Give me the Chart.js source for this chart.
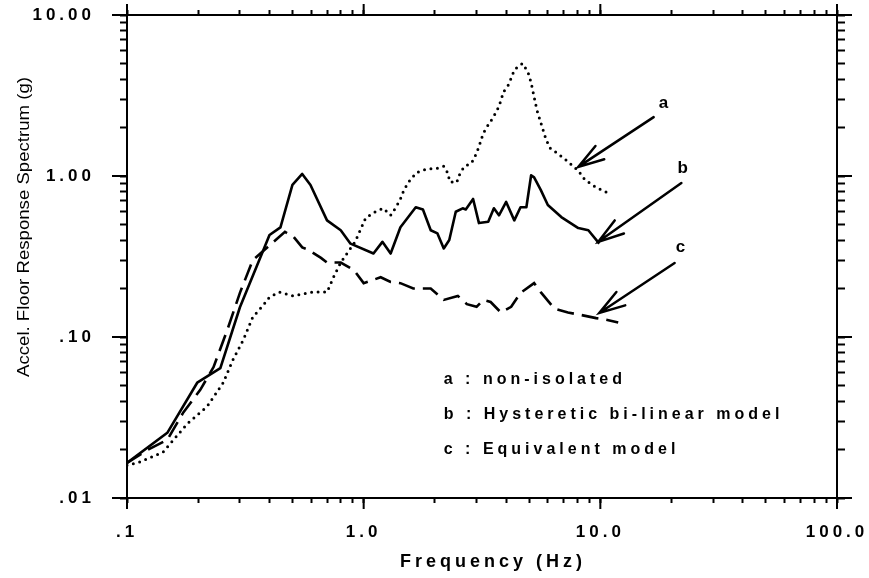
<!DOCTYPE html>
<html>
<head>
<meta charset="utf-8">
<script src="https://cdn.jsdelivr.net/npm/chart.js@4.4.1/dist/chart.umd.min.js"></script>
<style>
  html, body { margin: 0; padding: 0; background: #fff; }
  #wrap { width: 869px; height: 578px; }
</style>
</head>
<body>
<div id="wrap"><canvas id="chart" width="869" height="578"></canvas></div>
<script>
// a : non-isolated
const freqA = [0.1, 0.113, 0.142, 0.18, 0.218, 0.255, 0.28, 0.31, 0.34, 0.377, 0.40, 0.44, 0.505, 0.61, 0.70, 0.75, 0.80, 0.85, 0.92, 1.02, 1.12, 1.21, 1.3, 1.37, 1.43, 1.48, 1.55, 1.67, 1.83, 2.06, 2.18, 2.27, 2.31, 2.47, 2.56, 2.67, 2.85, 2.94, 3.06, 3.2, 3.36, 3.52, 3.73, 3.9, 4.1, 4.33, 4.5, 4.7, 4.95, 5.1, 5.25, 5.4, 5.6, 5.85, 6.1, 6.6, 7.2, 8.07, 8.6, 9.6, 10.9];
const accelA = [0.016, 0.0167, 0.0193, 0.029, 0.037, 0.052, 0.072, 0.096, 0.133, 0.158, 0.177, 0.19, 0.18, 0.19, 0.19, 0.24, 0.29, 0.33, 0.39, 0.55, 0.60, 0.63, 0.57, 0.64, 0.72, 0.82, 0.92, 1.05, 1.1, 1.12, 1.15, 1.04, 0.92, 0.91, 1.05, 1.15, 1.2, 1.3, 1.5, 1.84, 2.08, 2.3, 2.7, 3.33, 3.7, 4.55, 4.8, 5.0, 4.4, 3.8, 3.1, 2.56, 2.15, 1.75, 1.5, 1.38, 1.25, 1.08, 0.95, 0.85, 0.78];

// b : hysteretic bi-linear model
const freqB = [0.1, 0.148, 0.198, 0.248, 0.30, 0.377, 0.40, 0.445, 0.50, 0.55, 0.596, 0.70, 0.80, 0.88, 1.10, 1.20, 1.30, 1.43, 1.66, 1.78, 1.92, 2.05, 2.18, 2.30, 2.45, 2.62, 2.70, 2.90, 3.07, 3.36, 3.55, 3.73, 4.0, 4.33, 4.6, 4.87, 5.1, 5.25, 5.6, 6.0, 6.84, 8.07, 8.9, 9.9];
const accelB = [0.0165, 0.0254, 0.052, 0.064, 0.153, 0.347, 0.43, 0.48, 0.88, 1.03, 0.88, 0.53, 0.46, 0.38, 0.33, 0.39, 0.33, 0.48, 0.64, 0.62, 0.46, 0.44, 0.355, 0.40, 0.60, 0.63, 0.62, 0.72, 0.51, 0.52, 0.63, 0.57, 0.69, 0.53, 0.64, 0.64, 1.01, 0.98, 0.82, 0.66, 0.556, 0.475, 0.46, 0.38];

// c : equivalent model
const freqC = [0.1, 0.122, 0.148, 0.173, 0.204, 0.232, 0.265, 0.30, 0.34, 0.366, 0.465, 0.505, 0.55, 0.58, 0.66, 0.70, 0.80, 0.91, 1.0, 1.18, 1.3, 1.43, 1.62, 1.92, 2.18, 2.5, 2.73, 3.0, 3.2, 3.44, 3.8, 4.2, 4.6, 5.25, 5.6, 6.4, 7.3, 8.3, 9.6, 10.6, 11.9];
const accelC = [0.0165, 0.0199, 0.023, 0.034, 0.047, 0.065, 0.11, 0.188, 0.30, 0.33, 0.45, 0.42, 0.36, 0.35, 0.31, 0.29, 0.29, 0.26, 0.216, 0.235, 0.22, 0.216, 0.20, 0.20, 0.17, 0.18, 0.16, 0.154, 0.17, 0.165, 0.142, 0.154, 0.188, 0.216, 0.19, 0.15, 0.142, 0.137, 0.131, 0.128, 0.123];

// tick labels
const xDecades = [0.1, 1, 10, 100];
const xDecadeLabels = [".1", "1.0", "10.0", "100.0"];
const yDecades = [0.01, 0.1, 1, 10];
const yDecadeLabels = [".01", ".10", "1.00", "10.00"];

// arrows pointing at the curves
const arrowLabels = ["a", "b", "c"];
const arrowHeadX = [8.07, 9.8, 9.9];
const arrowHeadY = [1.14, 0.39, 0.141];
const arrowTailX = [16.8, 22, 20.6];
const arrowTailY = [2.32, 0.905, 0.288];
const arrowTextX = [18.5, 22.3, 21.8];
const arrowTextY = [2.84, 1.12, 0.362];

// key text
const keyLines = ["a : non-isolated", "b : Hysteretic bi-linear model", "c : Equivalent model"];
const keyX = 2.18;
const keyY = [0.054, 0.0328, 0.0199];

const xTitle = "Frequency (Hz)";
const yTitle = "Accel. Floor Response Spectrum (g)";

function points(xs, ys) {
  return xs.map((x, i) => ({ x: x, y: ys[i] }));
}

// 1..9 times every decade
function logTicks(decades) {
  const out = [];
  decades.forEach((d, i) => {
    if (i === decades.length - 1) { out.push(d); return; }
    for (let m = 1; m < 10; m++) out.push(d * m);
  });
  return out;
}

function labelFor(decades, labels) {
  return (value) => {
    const i = decades.findIndex(d => Math.abs(d - value) / d < 1e-6);
    return i >= 0 ? labels[i] : "";
  };
}

const FONT = "'Liberation Sans', Arial, sans-serif";

function logAxis(position, decades, labels, showLabels, fitSize, tickLen, pad) {
  const horizontal = position === "top" || position === "bottom";
  return {
    type: "logarithmic",
    position: position,
    min: decades[0],
    max: decades[decades.length - 1],
    border: { display: true, color: "#000", width: 2 },
    grid: { display: true, drawOnChartArea: false, drawTicks: true, tickLength: tickLen, tickColor: "#000", tickWidth: 2 },
    ticks: {
      display: showLabels,
      autoSkip: false,
      maxRotation: 0,
      minRotation: 0,
      padding: pad,
      color: "#000",
      font: { family: FONT, size: 17, weight: "bold" },
      callback: labelFor(decades, labels)
    },
    afterBuildTicks: (scale) => {
      scale.ticks = logTicks(decades).map(v => ({ value: v }));
    },
    afterFit: (scale) => {
      if (horizontal) scale.height = fitSize; else scale.width = fitSize;
      // keep the plot box fixed, labels may overhang
      scale.paddingTop = 0;
      scale.paddingBottom = 0;
      scale.paddingLeft = 0;
      scale.paddingRight = 0;
    }
  };
}

const decorPlugin = {
  id: "decor",
  beforeDraw(chart) {
    chart.ctx.letterSpacing = "4px";
  },
  afterDraw(chart) {
    const ctx = chart.ctx;
    const sx = chart.scales.x, sy = chart.scales.y;
    const area = chart.chartArea;
    ctx.save();
    ctx.letterSpacing = "0px";
    ctx.strokeStyle = "#000";
    ctx.fillStyle = "#000";
    ctx.lineWidth = 2;

    // longer ticks at the decades, on all four sides
    ctx.beginPath();
    xDecades.forEach(v => {
      const px = sx.getPixelForValue(v);
      ctx.moveTo(px, area.bottom); ctx.lineTo(px, area.bottom + 11);
      ctx.moveTo(px, area.top); ctx.lineTo(px, area.top - 11);
    });
    yDecades.forEach(v => {
      const py = sy.getPixelForValue(v);
      ctx.moveTo(area.left, py); ctx.lineTo(area.left - 15, py);
      ctx.moveTo(area.right, py); ctx.lineTo(area.right + 15, py);
    });
    ctx.stroke();

    // arrows
    ctx.lineWidth = 2.5;
    ctx.lineCap = "round";
    arrowLabels.forEach((lab, i) => {
      const hx = sx.getPixelForValue(arrowHeadX[i]);
      const hy = sy.getPixelForValue(arrowHeadY[i]);
      const tx = sx.getPixelForValue(arrowTailX[i]);
      const ty = sy.getPixelForValue(arrowTailY[i]);
      const ang = Math.atan2(ty - hy, tx - hx);
      const len = 27, spread = 0.3;
      ctx.beginPath();
      ctx.moveTo(tx, ty); ctx.lineTo(hx, hy);
      ctx.moveTo(hx + len * Math.cos(ang - spread), hy + len * Math.sin(ang - spread));
      ctx.lineTo(hx, hy);
      ctx.lineTo(hx + len * Math.cos(ang + spread), hy + len * Math.sin(ang + spread));
      ctx.stroke();

      ctx.font = "bold 17px " + FONT;
      ctx.textAlign = "center";
      ctx.textBaseline = "middle";
      ctx.fillText(lab, sx.getPixelForValue(arrowTextX[i]), sy.getPixelForValue(arrowTextY[i]));
    });

    // key
    ctx.letterSpacing = "4px";
    ctx.font = "bold 16px " + FONT;
    ctx.textAlign = "left";
    ctx.textBaseline = "middle";
    keyLines.forEach((t, i) => {
      ctx.fillText(t, sx.getPixelForValue(keyX), sy.getPixelForValue(keyY[i]));
    });

    // x title
    ctx.font = "bold 18px " + FONT;
    ctx.textAlign = "center";
    ctx.fillText(xTitle, 493, 562);

    // y title (condensed)
    ctx.letterSpacing = "0px";
    ctx.font = "17px " + FONT;
    const w = ctx.measureText(yTitle).width;
    ctx.translate(29, 227);
    ctx.rotate(-Math.PI / 2);
    ctx.scale(300 / w, 1);
    ctx.textAlign = "center";
    ctx.textBaseline = "alphabetic";
    ctx.fillText(yTitle, 0, 0);
    ctx.restore();
  }
};

document.addEventListener("DOMContentLoaded", () => {
  const ctx = document.getElementById("chart").getContext("2d");

  new Chart(ctx, {
    type: "scatter",
    data: {
      datasets: [
        {
          label: "a",
          data: points(freqA, accelA),
          showLine: true,
          borderColor: "#000",
          borderWidth: 3,
          borderDash: [0, 6.5],
          borderCapStyle: "round",
          pointRadius: 0,
          tension: 0
        },
        {
          label: "b",
          data: points(freqB, accelB),
          showLine: true,
          borderColor: "#000",
          borderWidth: 2.6,
          borderJoinStyle: "round",
          pointRadius: 0,
          tension: 0
        },
        {
          label: "c",
          data: points(freqC, accelC),
          showLine: true,
          borderColor: "#000",
          borderWidth: 2.6,
          borderDash: [17, 8],
          pointRadius: 0,
          tension: 0
        }
      ]
    },
    options: {
      responsive: false,
      animation: false,
      layout: { padding: 0 },
      plugins: { legend: { display: false }, tooltip: { enabled: false } },
      scales: {
        x: logAxis("bottom", xDecades, xDecadeLabels, true, 80, 5, 19),
        x2: logAxis("top", xDecades, xDecadeLabels, false, 15, 5, 0),
        y: logAxis("left", yDecades, yDecadeLabels, true, 127, 7, 25),
        y2: logAxis("right", yDecades, yDecadeLabels, false, 32, 8, 0)
      }
    },
    plugins: [decorPlugin]
  });
});
</script>
</body>
</html>
